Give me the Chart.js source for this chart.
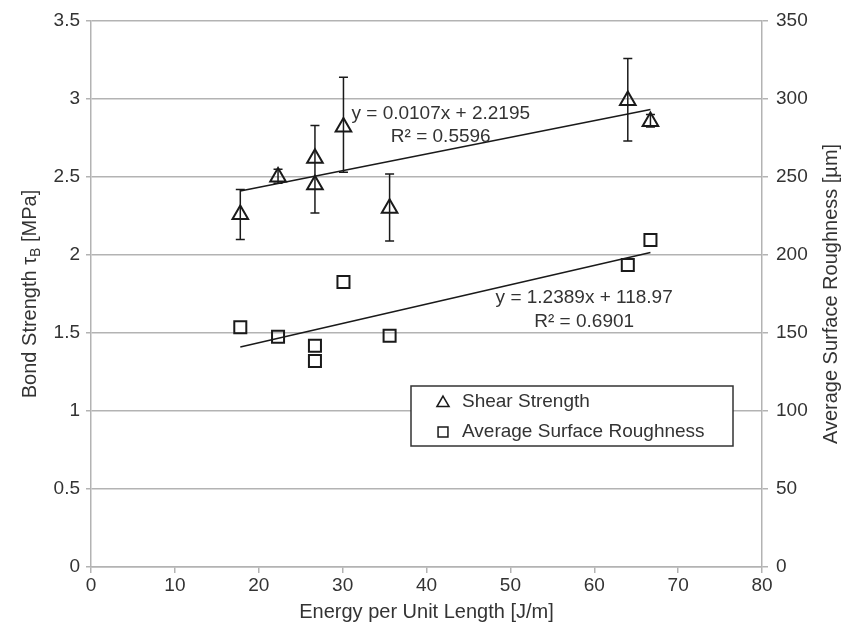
<!DOCTYPE html>
<html>
<head>
<meta charset="utf-8">
<script src="https://cdn.jsdelivr.net/npm/chart.js@4/dist/chart.umd.min.js"></script>
<style>
  html, body { margin: 0; padding: 0; background: #fff; }
  canvas { display: block; }
</style>
</head>
<body>
<canvas id="chart" width="856" height="632"></canvas>
<script>
// Energy per unit length [J/m]
const energy = [17.8, 22.3, 26.7, 26.7, 30.1, 35.6, 64.0, 66.7];
// Shear (bond) strength [MPa] with error bar ends
const shear = [2.26, 2.50, 2.62, 2.45, 2.82, 2.30, 2.99, 2.855];
const shearErrHigh = [2.42, 2.55, 2.83, null, 3.14, 2.52, 3.26, 2.90];
const shearErrLow = [2.10, 2.46, 2.27, null, 2.53, 2.09, 2.73, 2.82];
// Average surface roughness [µm]
const roughness = [153.7, 147.6, 141.9, 132.0, 182.7, 148.3, 193.6, 209.6];

// Trendlines (from the equations in the chart)
const shearFit = { slope: 0.0107, intercept: 2.2195, eq: 'y = 0.0107x + 2.2195', r2: 'R² = 0.5596' };
const roughFit = { slope: 1.2389, intercept: 118.97, eq: 'y = 1.2389x + 118.97', r2: 'R² = 0.6901' };

const FONT = '"Liberation Sans", Arial, sans-serif';
const TEXT = '#333333';
const GRID = '#b3b3b3';
const MARK = '#1a1a1a';

const xMin = Math.min(...energy);
const xMax = Math.max(...energy);
function fitLine(fit) {
    return [
        { x: xMin, y: fit.slope * xMin + fit.intercept },
        { x: xMax, y: fit.slope * xMax + fit.intercept }
    ];
}

// Barras de erro
const errorBars = {
    id: 'errorBars',
    afterDatasetsDraw(chart) {
        const { ctx, scales } = chart;
        ctx.save();
        ctx.strokeStyle = MARK;
        ctx.lineWidth = 1.5;
        energy.forEach((e, i) => {
            if (shearErrHigh[i] == null) return;
            const px = scales.x.getPixelForValue(e);
            const top = scales.y.getPixelForValue(shearErrHigh[i]);
            const bot = scales.y.getPixelForValue(shearErrLow[i]);
            ctx.beginPath();
            ctx.moveTo(px, top); ctx.lineTo(px, bot);
            ctx.moveTo(px - 4.5, top); ctx.lineTo(px + 4.5, top);
            ctx.moveTo(px - 4.5, bot); ctx.lineTo(px + 4.5, bot);
            ctx.stroke();
        });
        ctx.restore();
    }
};

// Textos das linhas de tendência, títulos dos eixos e legenda
const extras = {
    id: 'extras',
    afterDraw(chart) {
        const { ctx, scales, chartArea } = chart;
        ctx.save();
        ctx.fillStyle = TEXT;
        ctx.font = '19px ' + FONT;
        ctx.textAlign = 'center';
        ctx.textBaseline = 'middle';

        // equações
        let cx = scales.x.getPixelForValue(41.7);
        ctx.fillText(shearFit.eq, cx, scales.y.getPixelForValue(2.904));
        ctx.fillText(shearFit.r2, cx, scales.y.getPixelForValue(2.758));
        cx = scales.x.getPixelForValue(58.8);
        ctx.fillText(roughFit.eq, cx, scales.y1.getPixelForValue(172.4));
        ctx.fillText(roughFit.r2, cx, scales.y1.getPixelForValue(157.2));

        // títulos
        const midY = (chartArea.top + chartArea.bottom) / 2;
        ctx.font = '20px ' + FONT;
        ctx.fillText('Energy per Unit Length [J/m]', (chartArea.left + chartArea.right) / 2, 612);

        ctx.save();
        ctx.translate(831, midY);
        ctx.rotate(-Math.PI / 2);
        ctx.fillText('Average Surface Roughness [µm]', 0, 0);
        ctx.restore();

        ctx.save();
        ctx.translate(30, midY);
        ctx.rotate(-Math.PI / 2);
        ctx.textAlign = 'left';
        const big = '20px ' + FONT, small = '14px ' + FONT;
        const p1 = 'Bond Strength τ', p2 = 'B', p3 = ' [MPa]';
        ctx.font = big; const w1 = ctx.measureText(p1).width, w3 = ctx.measureText(p3).width;
        ctx.font = small; const w2 = ctx.measureText(p2).width;
        let x0 = -(w1 + w2 + w3) / 2;
        ctx.font = big; ctx.fillText(p1, x0, 0);
        ctx.font = small; ctx.fillText(p2, x0 + w1, 6);
        ctx.font = big; ctx.fillText(p3, x0 + w1 + w2, 0);
        ctx.restore();

        // legenda
        const bx = 411, by = 386, bw = 322, bh = 60;
        ctx.fillStyle = '#fff';
        ctx.fillRect(bx, by, bw, bh);
        ctx.strokeStyle = '#333';
        ctx.lineWidth = 1.5;
        ctx.strokeRect(bx, by, bw, bh);
        const items = [chart.data.datasets[0], chart.data.datasets[1]];
        items.forEach((ds, k) => {
            const ly = by + 16 + k * 30;
            ctx.fillStyle = 'rgba(0,0,0,0)';
            ctx.strokeStyle = MARK;
            Chart.helpers.drawPoint(ctx, {
                pointStyle: ds.pointStyle, radius: ds.pointStyle === 'triangle' ? 7 : 7,
                borderWidth: 1.6, rotation: 0
            }, 443, ly + (ds.pointStyle === 'triangle' ? 1 : 0));
            ctx.fillStyle = TEXT;
            ctx.font = '19px ' + FONT;
            ctx.textAlign = 'left';
            ctx.fillText(ds.label, 462, ly);
        });
        ctx.restore();
    }
};

const tickFmt = v => String(Math.round(v * 100) / 100);

new Chart(document.getElementById('chart'), {
    type: 'scatter',
    data: {
        datasets: [
            {
                label: 'Shear Strength',
                data: energy.map((e, i) => ({ x: e, y: shear[i] })),
                yAxisID: 'y',
                pointStyle: 'triangle',
                pointRadius: 9,
                pointBorderWidth: 2,
                pointBorderColor: MARK,
                pointBackgroundColor: 'rgba(0,0,0,0)'
            },
            {
                label: 'Average Surface Roughness',
                data: energy.map((e, i) => ({ x: e, y: roughness[i] })),
                yAxisID: 'y1',
                pointStyle: 'rect',
                pointRadius: 8.5,
                pointBorderWidth: 2,
                pointBorderColor: MARK,
                pointBackgroundColor: 'rgba(0,0,0,0)'
            },
            {
                label: 'trend shear',
                data: fitLine(shearFit),
                yAxisID: 'y',
                showLine: true,
                pointRadius: 0,
                borderColor: MARK,
                borderWidth: 1.5
            },
            {
                label: 'trend roughness',
                data: fitLine(roughFit),
                yAxisID: 'y1',
                showLine: true,
                pointRadius: 0,
                borderColor: MARK,
                borderWidth: 1.5
            }
        ]
    },
    options: {
        responsive: false,
        animation: false,
        layout: { padding: { top: 21, left: 0, right: 0, bottom: 0 } },
        plugins: {
            legend: { display: false },
            tooltip: { enabled: false }
        },
        scales: {
            x: {
                type: 'linear',
                min: 0, max: 80,
                ticks: { stepSize: 10, color: TEXT, font: { family: FONT, size: 19 }, padding: 1, callback: tickFmt },
                grid: { drawOnChartArea: false, color: GRID, tickLength: 6, lineWidth: 1.5 },
                border: { color: GRID, width: 1.5 },
                afterFit(scale) { scale.height = 65; }
            },
            y: {
                position: 'left',
                min: 0, max: 3.5,
                ticks: { stepSize: 0.5, color: TEXT, font: { family: FONT, size: 19 }, padding: 6, callback: tickFmt },
                grid: { color: GRID, tickLength: 5, lineWidth: 1.5 },
                border: { color: GRID, width: 1.5 },
                afterFit(scale) { scale.width = 91; }
            },
            y1: {
                position: 'right',
                min: 0, max: 350,
                ticks: { stepSize: 50, color: TEXT, font: { family: FONT, size: 19 }, padding: 8, callback: tickFmt },
                grid: { drawOnChartArea: false, color: GRID, tickLength: 6, lineWidth: 1.5 },
                border: { color: GRID, width: 1.5 },
                afterFit(scale) { scale.width = 94; }
            }
        }
    },
    plugins: [errorBars, extras]
});
</script>
</body>
</html>
